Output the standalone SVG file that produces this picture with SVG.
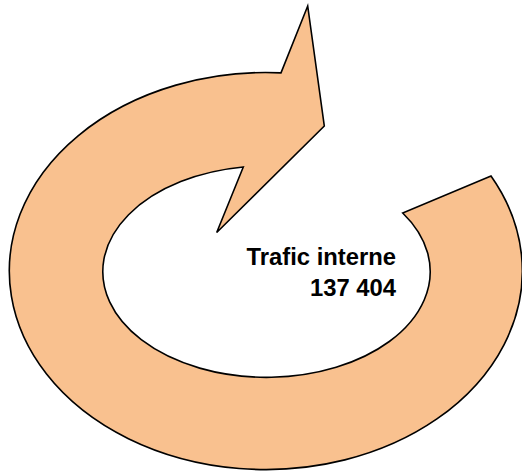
<svg xmlns="http://www.w3.org/2000/svg" width="522" height="473" viewBox="0 0 522 473">
<style>
.arrow{fill:#F9C18F;stroke:#000;stroke-width:1.6;stroke-linejoin:miter}
.lbl{font-family:"Liberation Sans",Arial,sans-serif;font-weight:bold;font-size:23.8px;fill:#000;text-anchor:end}
</style>
<rect width="522" height="473" fill="#fff"/>
<g id="circular-arrow">
<path class="arrow" d="M491,176 A256.5,198.5 0 1 1 281,72.9 L307.7,6 L324.3,126 L216.7,232.5 L243.3,167 A163.7,105.7 0 1 0 402.7,213 Z"/>
</g>
<g id="label">
<text class="lbl" x="396" y="265">Trafic interne</text>
<text class="lbl" x="396" y="296">137 404</text>
</g>
<g id="connectors"></g>
</svg>
